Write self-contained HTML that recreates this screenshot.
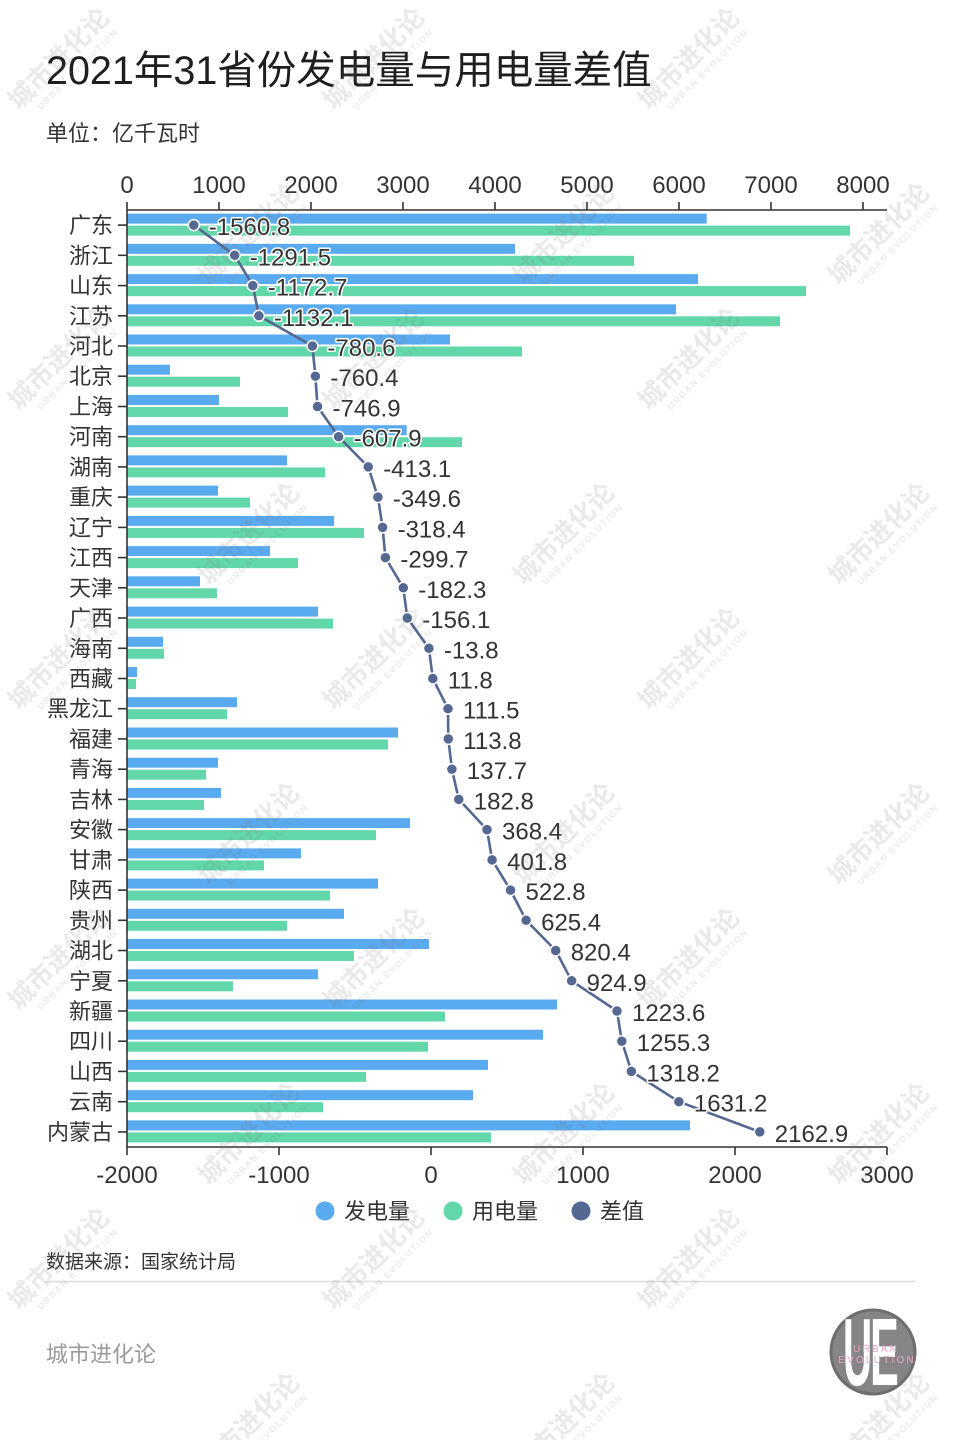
<!DOCTYPE html>
<html><head><meta charset="utf-8"><style>
html,body{margin:0;padding:0;background:#fff;}
svg{display:block;font-family:"Liberation Sans","Noto Sans CJK SC",sans-serif;}
</style></head><body>
<svg width="960" height="1440" viewBox="0 0 960 1440" xmlns="http://www.w3.org/2000/svg">
<rect width="960" height="1440" fill="#fff"/>
<text x="46" y="84" font-size="39.5" fill="#1e1e1e">2021年31省份发电量与用电量差值</text>
<text x="46" y="141" font-size="22" fill="#333">单位：亿千瓦时</text>

<!-- top axis -->
<g stroke="#333" stroke-width="1.6">
<line x1="127" y1="210" x2="887" y2="210"/>
<line x1="127" y1="202" x2="127" y2="210"/><line x1="219" y1="202" x2="219" y2="210"/><line x1="311" y1="202" x2="311" y2="210"/><line x1="403" y1="202" x2="403" y2="210"/><line x1="495" y1="202" x2="495" y2="210"/><line x1="587" y1="202" x2="587" y2="210"/><line x1="679" y1="202" x2="679" y2="210"/><line x1="771" y1="202" x2="771" y2="210"/><line x1="863" y1="202" x2="863" y2="210"/>
</g>
<g font-size="24" fill="#333" text-anchor="middle">
<text x="127" y="193">0</text><text x="219" y="193">1000</text><text x="311" y="193">2000</text><text x="403" y="193">3000</text><text x="495" y="193">4000</text><text x="587" y="193">5000</text><text x="679" y="193">6000</text><text x="771" y="193">7000</text><text x="863" y="193">8000</text>
</g>

<!-- bars -->
<g fill="#5aaaf0">
<rect x="127" y="213.6" width="579.7" height="10"/>
<rect x="127" y="243.8" width="388" height="10"/>
<rect x="127" y="274.1" width="571" height="10"/>
<rect x="127" y="304.3" width="549" height="10"/>
<rect x="127" y="334.5" width="323" height="10"/>
<rect x="127" y="364.7" width="43" height="10"/>
<rect x="127" y="395.0" width="92" height="10"/>
<rect x="127" y="425.2" width="279.7" height="10"/>
<rect x="127" y="455.4" width="160" height="10"/>
<rect x="127" y="485.6" width="91" height="10"/>
<rect x="127" y="515.9" width="207" height="10"/>
<rect x="127" y="546.1" width="143" height="10"/>
<rect x="127" y="576.3" width="73" height="10"/>
<rect x="127" y="606.6" width="191" height="10"/>
<rect x="127" y="636.8" width="36" height="10"/>
<rect x="127" y="667.0" width="10" height="10"/>
<rect x="127" y="697.2" width="110" height="10"/>
<rect x="127" y="727.5" width="271" height="10"/>
<rect x="127" y="757.7" width="91" height="10"/>
<rect x="127" y="787.9" width="94" height="10"/>
<rect x="127" y="818.1" width="283" height="10"/>
<rect x="127" y="848.4" width="174" height="10"/>
<rect x="127" y="878.6" width="251" height="10"/>
<rect x="127" y="908.8" width="217" height="10"/>
<rect x="127" y="939.0" width="302" height="10"/>
<rect x="127" y="969.3" width="191" height="10"/>
<rect x="127" y="999.5" width="430" height="10"/>
<rect x="127" y="1029.7" width="416" height="10"/>
<rect x="127" y="1059.9" width="361" height="10"/>
<rect x="127" y="1090.2" width="346" height="10"/>
<rect x="127" y="1120.4" width="563" height="10"/>
</g>
<g fill="#62d8aa">
<rect x="127" y="225.6" width="723" height="10"/>
<rect x="127" y="255.8" width="507" height="10"/>
<rect x="127" y="286.1" width="679" height="10"/>
<rect x="127" y="316.3" width="653" height="10"/>
<rect x="127" y="346.5" width="395" height="10"/>
<rect x="127" y="376.7" width="113" height="10"/>
<rect x="127" y="407.0" width="161" height="10"/>
<rect x="127" y="437.2" width="335" height="10"/>
<rect x="127" y="467.4" width="198" height="10"/>
<rect x="127" y="497.6" width="123" height="10"/>
<rect x="127" y="527.9" width="237" height="10"/>
<rect x="127" y="558.1" width="171" height="10"/>
<rect x="127" y="588.3" width="90" height="10"/>
<rect x="127" y="618.6" width="206" height="10"/>
<rect x="127" y="648.8" width="37" height="10"/>
<rect x="127" y="679.0" width="9" height="10"/>
<rect x="127" y="709.2" width="100" height="10"/>
<rect x="127" y="739.5" width="261" height="10"/>
<rect x="127" y="769.7" width="79" height="10"/>
<rect x="127" y="799.9" width="77" height="10"/>
<rect x="127" y="830.1" width="249" height="10"/>
<rect x="127" y="860.4" width="137" height="10"/>
<rect x="127" y="890.6" width="203" height="10"/>
<rect x="127" y="920.8" width="160" height="10"/>
<rect x="127" y="951.0" width="227" height="10"/>
<rect x="127" y="981.3" width="106" height="10"/>
<rect x="127" y="1011.5" width="318" height="10"/>
<rect x="127" y="1041.7" width="301" height="10"/>
<rect x="127" y="1071.9" width="239" height="10"/>
<rect x="127" y="1102.2" width="196" height="10"/>
<rect x="127" y="1132.4" width="364" height="10"/>
</g>

<!-- left axis -->
<g stroke="#333" stroke-width="1.6">
<line x1="127" y1="210" x2="127" y2="1147"/>
<line x1="118" y1="225.1" x2="127" y2="225.1"/><line x1="118" y1="255.3" x2="127" y2="255.3"/><line x1="118" y1="285.6" x2="127" y2="285.6"/><line x1="118" y1="315.8" x2="127" y2="315.8"/><line x1="118" y1="346.0" x2="127" y2="346.0"/><line x1="118" y1="376.2" x2="127" y2="376.2"/><line x1="118" y1="406.5" x2="127" y2="406.5"/><line x1="118" y1="436.7" x2="127" y2="436.7"/><line x1="118" y1="466.9" x2="127" y2="466.9"/><line x1="118" y1="497.1" x2="127" y2="497.1"/><line x1="118" y1="527.4" x2="127" y2="527.4"/><line x1="118" y1="557.6" x2="127" y2="557.6"/><line x1="118" y1="587.8" x2="127" y2="587.8"/><line x1="118" y1="618.0" x2="127" y2="618.0"/><line x1="118" y1="648.3" x2="127" y2="648.3"/><line x1="118" y1="678.5" x2="127" y2="678.5"/><line x1="118" y1="708.7" x2="127" y2="708.7"/><line x1="118" y1="738.9" x2="127" y2="738.9"/><line x1="118" y1="769.2" x2="127" y2="769.2"/><line x1="118" y1="799.4" x2="127" y2="799.4"/><line x1="118" y1="829.6" x2="127" y2="829.6"/><line x1="118" y1="859.9" x2="127" y2="859.9"/><line x1="118" y1="890.1" x2="127" y2="890.1"/><line x1="118" y1="920.3" x2="127" y2="920.3"/><line x1="118" y1="950.5" x2="127" y2="950.5"/><line x1="118" y1="980.8" x2="127" y2="980.8"/><line x1="118" y1="1011.0" x2="127" y2="1011.0"/><line x1="118" y1="1041.2" x2="127" y2="1041.2"/><line x1="118" y1="1071.4" x2="127" y2="1071.4"/><line x1="118" y1="1101.7" x2="127" y2="1101.7"/><line x1="118" y1="1131.9" x2="127" y2="1131.9"/>
</g>
<g font-size="22" fill="#333" text-anchor="end">
<text x="113" y="233.1">广东</text><text x="113" y="263.3">浙江</text><text x="113" y="293.6">山东</text><text x="113" y="323.8">江苏</text><text x="113" y="354.0">河北</text><text x="113" y="384.2">北京</text><text x="113" y="414.5">上海</text><text x="113" y="444.7">河南</text><text x="113" y="474.9">湖南</text><text x="113" y="505.1">重庆</text><text x="113" y="535.4">辽宁</text><text x="113" y="565.6">江西</text><text x="113" y="595.8">天津</text><text x="113" y="626.0">广西</text><text x="113" y="656.3">海南</text><text x="113" y="686.5">西藏</text><text x="113" y="716.7">黑龙江</text><text x="113" y="746.9">福建</text><text x="113" y="777.2">青海</text><text x="113" y="807.4">吉林</text><text x="113" y="837.6">安徽</text><text x="113" y="867.9">甘肃</text><text x="113" y="898.1">陕西</text><text x="113" y="928.3">贵州</text><text x="113" y="958.5">湖北</text><text x="113" y="988.8">宁夏</text><text x="113" y="1019.0">新疆</text><text x="113" y="1049.2">四川</text><text x="113" y="1079.4">山西</text><text x="113" y="1109.7">云南</text><text x="113" y="1139.9">内蒙古</text>
</g>

<!-- bottom axis -->
<g stroke="#333" stroke-width="1.6">
<line x1="127" y1="1147" x2="887" y2="1147"/>
<line x1="127" y1="1147" x2="127" y2="1155"/><line x1="279" y1="1147" x2="279" y2="1155"/><line x1="431" y1="1147" x2="431" y2="1155"/><line x1="583" y1="1147" x2="583" y2="1155"/><line x1="735" y1="1147" x2="735" y2="1155"/><line x1="887" y1="1147" x2="887" y2="1155"/>
</g>
<g font-size="24" fill="#333" text-anchor="middle">
<text x="127" y="1183">-2000</text><text x="279" y="1183">-1000</text><text x="431" y="1183">0</text><text x="583" y="1183">1000</text><text x="735" y="1183">2000</text><text x="887" y="1183">3000</text>
</g>

<!-- diff line -->
<polyline fill="none" stroke="#556891" stroke-width="2.6" stroke-linejoin="round" points="193.8,225.1 234.7,255.3 252.8,285.6 258.9,315.8 312.4,346.0 315.4,376.2 317.5,406.5 338.6,436.7 368.2,466.9 377.9,497.1 382.6,527.4 385.4,557.6 403.3,587.8 407.3,618.0 428.9,648.3 432.8,678.5 448.0,708.7 448.3,738.9 451.9,769.2 458.8,799.4 487.0,829.6 492.1,859.9 510.5,890.1 526.1,920.3 555.7,950.5 571.6,980.8 617.0,1011.0 621.8,1041.2 631.4,1071.4 678.9,1101.7 759.8,1131.9"/>
<g fill="#556891" stroke="#fff" stroke-width="1.5">
<circle cx="193.8" cy="225.1" r="5.5"/><circle cx="234.7" cy="255.3" r="5.5"/><circle cx="252.8" cy="285.6" r="5.5"/><circle cx="258.9" cy="315.8" r="5.5"/><circle cx="312.4" cy="346.0" r="5.5"/><circle cx="315.4" cy="376.2" r="5.5"/><circle cx="317.5" cy="406.5" r="5.5"/><circle cx="338.6" cy="436.7" r="5.5"/><circle cx="368.2" cy="466.9" r="5.5"/><circle cx="377.9" cy="497.1" r="5.5"/><circle cx="382.6" cy="527.4" r="5.5"/><circle cx="385.4" cy="557.6" r="5.5"/><circle cx="403.3" cy="587.8" r="5.5"/><circle cx="407.3" cy="618.0" r="5.5"/><circle cx="428.9" cy="648.3" r="5.5"/><circle cx="432.8" cy="678.5" r="5.5"/><circle cx="448.0" cy="708.7" r="5.5"/><circle cx="448.3" cy="738.9" r="5.5"/><circle cx="451.9" cy="769.2" r="5.5"/><circle cx="458.8" cy="799.4" r="5.5"/><circle cx="487.0" cy="829.6" r="5.5"/><circle cx="492.1" cy="859.9" r="5.5"/><circle cx="510.5" cy="890.1" r="5.5"/><circle cx="526.1" cy="920.3" r="5.5"/><circle cx="555.7" cy="950.5" r="5.5"/><circle cx="571.6" cy="980.8" r="5.5"/><circle cx="617.0" cy="1011.0" r="5.5"/><circle cx="621.8" cy="1041.2" r="5.5"/><circle cx="631.4" cy="1071.4" r="5.5"/><circle cx="678.9" cy="1101.7" r="5.5"/><circle cx="759.8" cy="1131.9" r="5.5"/>
</g>
<g font-size="24" fill="#333" stroke="#fff" stroke-width="3" paint-order="stroke" stroke-linejoin="round">
<text x="208.8" y="235.1">-1560.8</text>
<text x="249.7" y="265.3">-1291.5</text>
<text x="267.8" y="295.6">-1172.7</text>
<text x="273.9" y="325.8">-1132.1</text>
<text x="327.4" y="356.0">-780.6</text>
<text x="330.4" y="386.2">-760.4</text>
<text x="332.5" y="416.5">-746.9</text>
<text x="353.6" y="446.7">-607.9</text>
<text x="383.2" y="476.9">-413.1</text>
<text x="392.9" y="507.1">-349.6</text>
<text x="397.6" y="537.4">-318.4</text>
<text x="400.4" y="567.6">-299.7</text>
<text x="418.3" y="597.8">-182.3</text>
<text x="422.3" y="628.0">-156.1</text>
<text x="443.9" y="658.3">-13.8</text>
<text x="447.8" y="688.5">11.8</text>
<text x="463.0" y="718.7">111.5</text>
<text x="463.3" y="748.9">113.8</text>
<text x="466.9" y="779.2">137.7</text>
<text x="473.8" y="809.4">182.8</text>
<text x="502.0" y="839.6">368.4</text>
<text x="507.1" y="869.9">401.8</text>
<text x="525.5" y="900.1">522.8</text>
<text x="541.1" y="930.3">625.4</text>
<text x="570.7" y="960.5">820.4</text>
<text x="586.6" y="990.8">924.9</text>
<text x="632.0" y="1021.0">1223.6</text>
<text x="636.8" y="1051.2">1255.3</text>
<text x="646.4" y="1081.4">1318.2</text>
<text x="693.9" y="1111.7">1631.2</text>
<text x="774.8" y="1141.9">2162.9</text>
</g>

<!-- legend -->
<circle cx="325" cy="1211" r="9.5" fill="#5aaaf0"/>
<circle cx="453" cy="1211" r="9.5" fill="#62d8aa"/>
<circle cx="581" cy="1211" r="9.5" fill="#556891"/>
<g font-size="22" fill="#333">
<text x="344" y="1219">发电量</text><text x="472" y="1219">用电量</text><text x="600" y="1219">差值</text>
</g>

<!-- footer -->
<text x="46" y="1268" font-size="19" fill="#333">数据来源：国家统计局</text>
<line x1="46" y1="1281.5" x2="915" y2="1281.5" stroke="#dcdcdc" stroke-width="1.6"/>
<text x="46" y="1362" font-size="22" fill="#9a9a9a">城市进化论</text>

<!-- logo -->
<circle cx="873" cy="1352" r="42" fill="#858585"/>
<circle cx="873" cy="1352" r="42" fill="none" stroke="#6e6e6e" stroke-width="3"/>
<g fill="#fff" font-weight="bold" font-size="96">
<text x="0" y="0" transform="translate(843,1385) scale(0.42,1)">U</text>
<text x="0" y="0" transform="translate(870,1385) scale(0.45,1)">E</text>
</g>
<g fill="#e8a3c8" font-size="10" text-anchor="middle" letter-spacing="2.2">
<text x="876" y="1352">URBAN</text>
<text x="877" y="1363">EVOLUTION</text>
</g>

<!-- watermarks -->
<g fill="#7a7a7a" opacity="0.16" font-weight="bold" text-anchor="middle">
<g transform="translate(65,65) rotate(-45)"><text x="0" y="0" font-size="26">城市进化论</text><text x="6" y="15" font-size="9" letter-spacing="1.5">URBAN EVOLUTION</text></g>
<g transform="translate(380,65) rotate(-45)"><text x="0" y="0" font-size="26">城市进化论</text><text x="6" y="15" font-size="9" letter-spacing="1.5">URBAN EVOLUTION</text></g>
<g transform="translate(695,65) rotate(-45)"><text x="0" y="0" font-size="26">城市进化论</text><text x="6" y="15" font-size="9" letter-spacing="1.5">URBAN EVOLUTION</text></g>
<g transform="translate(65,365) rotate(-45)"><text x="0" y="0" font-size="26">城市进化论</text><text x="6" y="15" font-size="9" letter-spacing="1.5">URBAN EVOLUTION</text></g>
<g transform="translate(380,365) rotate(-45)"><text x="0" y="0" font-size="26">城市进化论</text><text x="6" y="15" font-size="9" letter-spacing="1.5">URBAN EVOLUTION</text></g>
<g transform="translate(695,365) rotate(-45)"><text x="0" y="0" font-size="26">城市进化论</text><text x="6" y="15" font-size="9" letter-spacing="1.5">URBAN EVOLUTION</text></g>
<g transform="translate(65,665) rotate(-45)"><text x="0" y="0" font-size="26">城市进化论</text><text x="6" y="15" font-size="9" letter-spacing="1.5">URBAN EVOLUTION</text></g>
<g transform="translate(380,665) rotate(-45)"><text x="0" y="0" font-size="26">城市进化论</text><text x="6" y="15" font-size="9" letter-spacing="1.5">URBAN EVOLUTION</text></g>
<g transform="translate(695,665) rotate(-45)"><text x="0" y="0" font-size="26">城市进化论</text><text x="6" y="15" font-size="9" letter-spacing="1.5">URBAN EVOLUTION</text></g>
<g transform="translate(65,965) rotate(-45)"><text x="0" y="0" font-size="26">城市进化论</text><text x="6" y="15" font-size="9" letter-spacing="1.5">URBAN EVOLUTION</text></g>
<g transform="translate(380,965) rotate(-45)"><text x="0" y="0" font-size="26">城市进化论</text><text x="6" y="15" font-size="9" letter-spacing="1.5">URBAN EVOLUTION</text></g>
<g transform="translate(695,965) rotate(-45)"><text x="0" y="0" font-size="26">城市进化论</text><text x="6" y="15" font-size="9" letter-spacing="1.5">URBAN EVOLUTION</text></g>
<g transform="translate(65,1265) rotate(-45)"><text x="0" y="0" font-size="26">城市进化论</text><text x="6" y="15" font-size="9" letter-spacing="1.5">URBAN EVOLUTION</text></g>
<g transform="translate(380,1265) rotate(-45)"><text x="0" y="0" font-size="26">城市进化论</text><text x="6" y="15" font-size="9" letter-spacing="1.5">URBAN EVOLUTION</text></g>
<g transform="translate(695,1265) rotate(-45)"><text x="0" y="0" font-size="26">城市进化论</text><text x="6" y="15" font-size="9" letter-spacing="1.5">URBAN EVOLUTION</text></g>
<g transform="translate(255,240) rotate(-45)"><text x="0" y="0" font-size="26">城市进化论</text><text x="6" y="15" font-size="9" letter-spacing="1.5">URBAN EVOLUTION</text></g>
<g transform="translate(570,240) rotate(-45)"><text x="0" y="0" font-size="26">城市进化论</text><text x="6" y="15" font-size="9" letter-spacing="1.5">URBAN EVOLUTION</text></g>
<g transform="translate(885,240) rotate(-45)"><text x="0" y="0" font-size="26">城市进化论</text><text x="6" y="15" font-size="9" letter-spacing="1.5">URBAN EVOLUTION</text></g>
<g transform="translate(255,540) rotate(-45)"><text x="0" y="0" font-size="26">城市进化论</text><text x="6" y="15" font-size="9" letter-spacing="1.5">URBAN EVOLUTION</text></g>
<g transform="translate(570,540) rotate(-45)"><text x="0" y="0" font-size="26">城市进化论</text><text x="6" y="15" font-size="9" letter-spacing="1.5">URBAN EVOLUTION</text></g>
<g transform="translate(885,540) rotate(-45)"><text x="0" y="0" font-size="26">城市进化论</text><text x="6" y="15" font-size="9" letter-spacing="1.5">URBAN EVOLUTION</text></g>
<g transform="translate(255,840) rotate(-45)"><text x="0" y="0" font-size="26">城市进化论</text><text x="6" y="15" font-size="9" letter-spacing="1.5">URBAN EVOLUTION</text></g>
<g transform="translate(570,840) rotate(-45)"><text x="0" y="0" font-size="26">城市进化论</text><text x="6" y="15" font-size="9" letter-spacing="1.5">URBAN EVOLUTION</text></g>
<g transform="translate(885,840) rotate(-45)"><text x="0" y="0" font-size="26">城市进化论</text><text x="6" y="15" font-size="9" letter-spacing="1.5">URBAN EVOLUTION</text></g>
<g transform="translate(255,1140) rotate(-45)"><text x="0" y="0" font-size="26">城市进化论</text><text x="6" y="15" font-size="9" letter-spacing="1.5">URBAN EVOLUTION</text></g>
<g transform="translate(570,1140) rotate(-45)"><text x="0" y="0" font-size="26">城市进化论</text><text x="6" y="15" font-size="9" letter-spacing="1.5">URBAN EVOLUTION</text></g>
<g transform="translate(885,1140) rotate(-45)"><text x="0" y="0" font-size="26">城市进化论</text><text x="6" y="15" font-size="9" letter-spacing="1.5">URBAN EVOLUTION</text></g>
<g transform="translate(255,1430) rotate(-45)"><text x="0" y="0" font-size="26">城市进化论</text><text x="6" y="15" font-size="9" letter-spacing="1.5">URBAN EVOLUTION</text></g>
<g transform="translate(570,1430) rotate(-45)"><text x="0" y="0" font-size="26">城市进化论</text><text x="6" y="15" font-size="9" letter-spacing="1.5">URBAN EVOLUTION</text></g>
<g transform="translate(885,1430) rotate(-45)"><text x="0" y="0" font-size="26">城市进化论</text><text x="6" y="15" font-size="9" letter-spacing="1.5">URBAN EVOLUTION</text></g>
</g>
</svg>
</body></html>
